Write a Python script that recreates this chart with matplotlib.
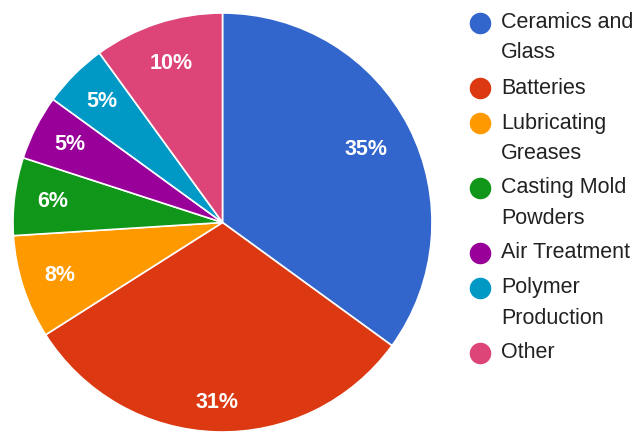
import numpy as np
import matplotlib.pyplot as plt
from matplotlib.lines import Line2D

plt.rcParams['font.family'] = ['Liberation Sans', 'DejaVu Sans']

# Uses of lithium, share of total
categories = ['Ceramics and\nGlass', 'Batteries', 'Lubricating\nGreases', 'Casting Mold\nPowders',
              'Air Treatment', 'Polymer\nProduction', 'Other']
shares = [35, 31, 8, 6, 5, 5, 10]
colors = ['#3366cc', '#dc3912', '#ff9900', '#109618', '#990099', '#0099c6', '#dd4477']

# how far out each percentage sits inside its slice
label_dist = [0.77, 0.86, 0.815, 0.815, 0.815, 0.815, 0.80]

W, H = 639, 432
fig = plt.figure(figsize=(W / 100, H / 100), dpi=100)
ax = fig.add_axes([13 / W, 0.0, 419 / W, 419 / H])

wedges, _ = ax.pie(shares, colors=colors, startangle=90, counterclock=False,
                   wedgeprops=dict(edgecolor='white', linewidth=1.2))
ax.set_xlim(-1, 1)
ax.set_ylim(-1, 1)
ax.set_aspect('equal')
ax.axis('off')

for w, v, d in zip(wedges, shares, label_dist):
    mid = np.deg2rad((w.theta1 + w.theta2) / 2)
    ax.text(d * np.cos(mid), d * np.sin(mid), f'{v}%', ha='center', va='center',
            color='white', fontsize=15.5, fontweight='bold')

# legend drawn by hand, one entry per category
y = 23
for lab, c in zip(categories, colors):
    fig.add_artist(Line2D([480 / W], [1 - y / H], marker='o', markersize=14.5,
                          color=c, linestyle='none', transform=fig.transFigure))
    lines = lab.split('\n')
    for i, ln in enumerate(lines):
        fig.text(501 / W, 1 - (y + 30 * i) / H, ln, ha='left', va='center',
                 fontsize=15.5, color='#222222')
    y += 30 * (len(lines) - 1) + 35

fig.savefig('out.png', dpi=100, facecolor='white')
